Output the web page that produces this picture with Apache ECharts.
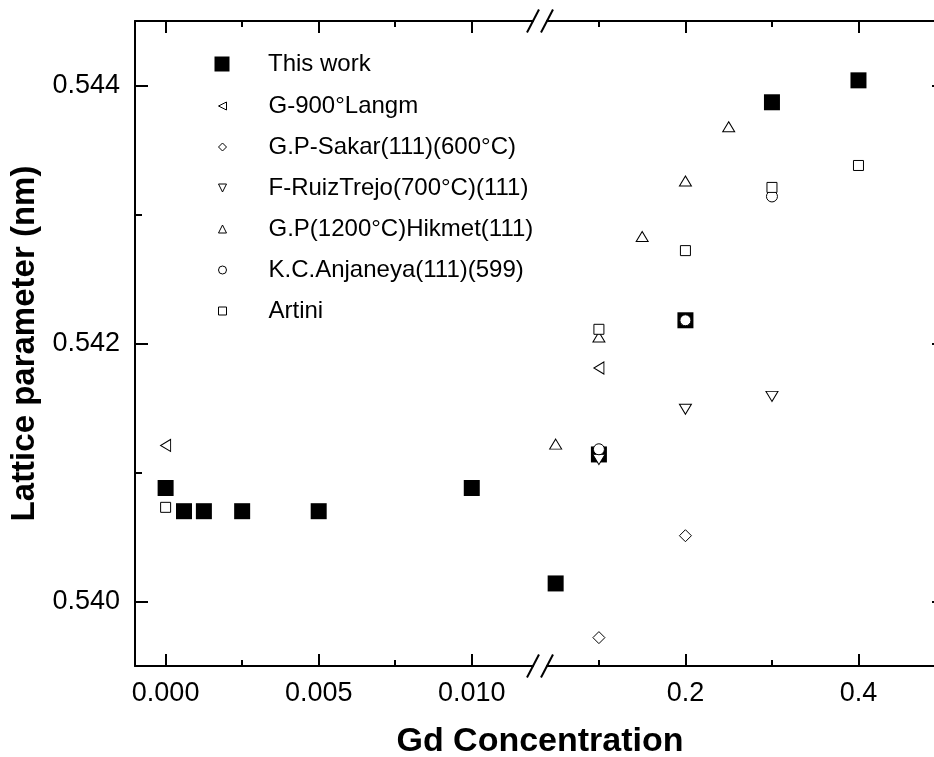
<!DOCTYPE html>
<html>
<head>
<meta charset="utf-8">
<script src="https://cdn.jsdelivr.net/npm/echarts@6/dist/echarts.min.js"></script>
<style>
  html, body { margin: 0; padding: 0; background: #fff; }
  #chart { width: 934px; height: 757px; }
</style>
</head>
<body>
<div id="chart"></div>
<script>
// Gd concentration (x) and CeO2 lattice parameter in nm (y), one pair of arrays per source
const gdThisWork = [0, 0.0006, 0.00125, 0.0025, 0.005, 0.01, 0.05, 0.1, 0.2, 0.3, 0.4];
const aThisWork  = [0.54088, 0.54070, 0.54070, 0.54070, 0.54070, 0.54088, 0.54014, 0.54114, 0.54218, 0.54387, 0.54404];

const gdLangm = [0, 0.1];
const aLangm  = [0.54121, 0.54181];

const gdSakar = [0.1, 0.2];
const aSakar  = [0.53972, 0.54051];

const gdRuiz = [0.1, 0.2, 0.3];
const aRuiz  = [0.54110, 0.54149, 0.54159];

const gdHikmet = [0.05, 0.1, 0.15, 0.2, 0.25];
const aHikmet  = [0.54122, 0.54205, 0.54283, 0.54326, 0.54368];

const gdAnjaneya = [0.1, 0.2, 0.3];
const aAnjaneya  = [0.54118, 0.54218, 0.54314];

const gdArtini = [0, 0.1, 0.2, 0.3, 0.4];
const aArtini  = [0.54073, 0.54211, 0.54272, 0.54321, 0.54338];

// Tick positions
const leftMajorTicks  = [0, 0.005, 0.010];
const leftMinorTicks  = [0.0025, 0.0075];
const rightMajorTicks = [0.2, 0.4];
const rightMinorTicks = [0.1, 0.3];
const yMajorTicks = [0.540, 0.542, 0.544];
const yMinorTicks = [0.541, 0.543];

// Axis ranges; the x axis is broken between the two segments
const xLeftRange  = [-0.001, 0.012];
const xRightRange = [0.04, 0.5];
const yRange      = [0.5395, 0.5445];

const FONT = '"Liberation Sans", Arial, Helvetica, sans-serif';
const INK = '#000';

// Marker shapes; legend icons for the rotated triangles are given as paths
const TRI_LEFT = 'path://M0,5L10,0L10,10Z';
const TRI_DOWN = 'path://M0,0L10,0L5,10Z';

const sources = [
  { name: 'This work', x: gdThisWork, y: aThisWork, symbol: 'rect', icon: 'rect', size: 16, rotate: 0, filled: true },
  { name: 'G-900°Langm', x: gdLangm, y: aLangm, symbol: 'triangle', icon: TRI_LEFT, size: [12, 10], rotate: 90 },
  { name: 'G.P-Sakar(111)(600°C)', x: gdSakar, y: aSakar, symbol: 'diamond', icon: 'diamond', size: 12, rotate: 0 },
  { name: 'F-RuizTrejo(700°C)(111)', x: gdRuiz, y: aRuiz, symbol: 'triangle', icon: TRI_DOWN, size: [12, 10], rotate: 180 },
  { name: 'G.P(1200°C)Hikmet(111)', x: gdHikmet, y: aHikmet, symbol: 'triangle', icon: 'triangle', size: [12, 10], rotate: 0 },
  { name: 'K.C.Anjaneya(111)(599)', x: gdAnjaneya, y: aAnjaneya, symbol: 'circle', icon: 'circle', size: 11, rotate: 0 },
  { name: 'Artini', x: gdArtini, y: aArtini, symbol: 'rect', icon: 'rect', size: 10, rotate: 0 }
];

function xAxisDef(gridIndex, range, position, ticks, tickLen, withLine, labels, digits) {
  return {
    type: 'value', gridIndex, position, min: range[0], max: range[1],
    splitLine: { show: false },
    axisLine: { show: withLine, onZero: false, lineStyle: { color: INK, width: 2 } },
    axisTick: { show: true, inside: true, length: tickLen, customValues: ticks,
                lineStyle: { color: INK, width: 2 } },
    axisLabel: labels
      ? { show: true, customValues: labels, margin: 14, color: INK, fontSize: 27, fontFamily: FONT,
          formatter: v => Number(v).toFixed(digits) }
      : { show: false }
  };
}

function yAxisDef(gridIndex, position, ticks, tickLen, withLine, labels, name) {
  const ax = {
    type: 'value', gridIndex, position, min: yRange[0], max: yRange[1],
    splitLine: { show: false },
    axisLine: { show: withLine, onZero: false, lineStyle: { color: INK, width: 2 } },
    axisTick: { show: true, inside: true, length: tickLen, customValues: ticks,
                lineStyle: { color: INK, width: 2 } },
    axisLabel: labels
      ? { show: true, customValues: labels, margin: 15, color: INK, fontSize: 27, fontFamily: FONT,
          formatter: v => Number(v).toFixed(3) }
      : { show: false }
  };
  if (name) {
    Object.assign(ax, {
      name, nameLocation: 'middle', nameRotate: 90, nameGap: 94,
      nameTextStyle: { color: INK, fontSize: 33, fontWeight: 'bold', fontFamily: FONT }
    });
  }
  return ax;
}

const xAxes = [
  // left segment (grid 0)
  xAxisDef(0, xLeftRange, 'bottom', leftMajorTicks, 12, true, leftMajorTicks, 3),
  xAxisDef(0, xLeftRange, 'bottom', leftMinorTicks, 6, false, null),
  xAxisDef(0, xLeftRange, 'top', leftMajorTicks, 12, true, null),
  xAxisDef(0, xLeftRange, 'top', leftMinorTicks, 6, false, null),
  // right segment (grid 1)
  xAxisDef(1, xRightRange, 'bottom', rightMajorTicks, 12, true, rightMajorTicks, 1),
  xAxisDef(1, xRightRange, 'bottom', rightMinorTicks, 6, false, null),
  xAxisDef(1, xRightRange, 'top', rightMajorTicks, 12, true, null),
  xAxisDef(1, xRightRange, 'top', rightMinorTicks, 6, false, null)
];

const yAxes = [
  yAxisDef(0, 'left', yMajorTicks, 13, true, yMajorTicks, 'Lattice parameter (nm)'),
  yAxisDef(0, 'left', yMinorTicks, 7, false, null),
  yAxisDef(1, 'right', yMajorTicks, 13, true, null),
  yAxisDef(1, 'right', yMinorTicks, 7, false, null)
];

function markerStyle(src) {
  return src.filled
    ? { color: INK, borderWidth: 0, opacity: 1 }
    : { color: '#fff', borderColor: INK, borderWidth: 1, opacity: 1 };
}

const series = [];
sources.forEach((src, si) => {
  const pts = src.x.map((gx, i) => [gx, src.y[i]]);
  const segs = [
    { data: pts.filter(p => p[0] <= xLeftRange[1]), xi: 0, yi: 0 },
    { data: pts.filter(p => p[0] >= xRightRange[0]), xi: 4, yi: 2 }
  ];
  segs.forEach(seg => {
    series.push({
      type: 'scatter',
      name: src.name,
      xAxisIndex: seg.xi,
      yAxisIndex: seg.yi,
      data: seg.data,
      symbol: src.symbol,
      symbolSize: src.size,
      symbolRotate: src.rotate,
      z: 2 + si,
      itemStyle: markerStyle(src),
      emphasis: { disabled: true }
    });
  });
});

const legendItems = sources.map(src => ({
  name: src.name, icon: src.icon, itemStyle: markerStyle(src)
}));

const option = {
  animation: false,
  backgroundColor: '#fff',
  grid: [
    { left: 135, right: 401, top: 21, bottom: 91, containLabel: false, outerBoundsMode: 'none' },
    { left: 547, right: -11, top: 21, bottom: 91, containLabel: false, outerBoundsMode: 'none' }
  ],
  title: {
    text: 'Gd Concentration',
    left: 540, top: 725, textAlign: 'center', padding: 0,
    textStyle: { color: INK, fontSize: 34, fontWeight: 'bold', fontFamily: FONT }
  },
  legend: [
    {
      data: legendItems.slice(0, 1), orient: 'vertical', left: 214.5, top: 52, padding: 0,
      itemWidth: 15, itemHeight: 15, selectedMode: false,
      textStyle: { color: INK, fontSize: 24, fontFamily: FONT, padding: [0, 0, 0, 33.5] }
    },
    {
      data: legendItems.slice(1), orient: 'vertical', left: 218, top: 94, padding: 0,
      itemWidth: 8, itemHeight: 8, itemGap: 17, selectedMode: false,
      textStyle: { color: INK, fontSize: 24, fontFamily: FONT, padding: [0, 0, 0, 37] }
    }
  ],
  xAxis: xAxes,
  yAxis: yAxes,
  series
};

const chart = echarts.init(document.getElementById('chart'), null, { renderer: 'canvas' });
chart.setOption(option);

// Axis-break marks: a pair of slanted strokes across the top and bottom axis lines
const xBreakEnd = chart.convertToPixel({ xAxisIndex: 0 }, xLeftRange[1]);
const xBreakStart = chart.convertToPixel({ xAxisIndex: 4 }, xRightRange[0]);
const yBottom = chart.convertToPixel({ yAxisIndex: 0 }, yRange[0]);
const yTop = chart.convertToPixel({ yAxisIndex: 0 }, yRange[1]);
const marks = [];
[xBreakEnd, xBreakStart].forEach(cx => {
  [yBottom, yTop].forEach(cy => {
    marks.push({
      type: 'line', silent: true, z: 100,
      shape: { x1: cx - 6, y1: cy + 11.5, x2: cx + 6, y2: cy - 11.5 },
      style: { stroke: INK, lineWidth: 2 }
    });
  });
});
chart.setOption({ graphic: marks });
</script>
</body>
</html>
